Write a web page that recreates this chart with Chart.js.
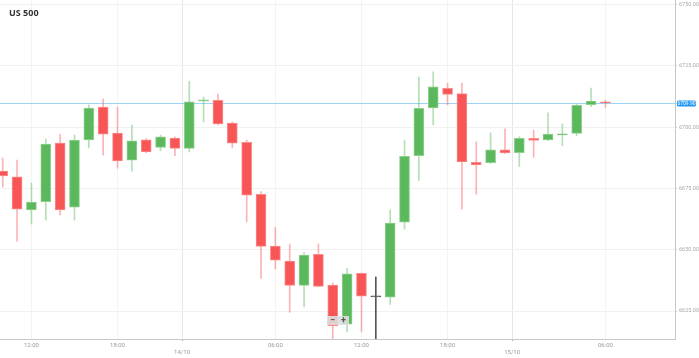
<!DOCTYPE html>
<html>
<head>
<meta charset="utf-8">
<script src="https://cdn.jsdelivr.net/npm/chart.js@4.4.1/dist/chart.umd.min.js"></script>
<style>
  html, body { margin: 0; padding: 0; background: #fff; }
  #wrap { position: relative; width: 699px; height: 358px; }
  #title { position: absolute; left: 9px; top: 6px; font: bold 9px "Open Sans", sans-serif; color: #333; }
  .zoom-btn {
    position: absolute; top: 316px; width: 11px; height: 9px;
    background: rgba(222, 222, 222, 0.9); color: #555;
    font: bold 9px Roboto, sans-serif; line-height: 9px; text-align: center;
  }
</style>
</head>
<body>
<div id="wrap">
  <canvas id="chart" width="699" height="358"></canvas>
  <div id="title">US 500</div>
  <div class="zoom-btn" style="left:327px">−</div>
  <div class="zoom-btn" style="left:338px">+</div>
</div>
<script>
// hourly candles
const opens = [6682.1, 6679.8, 6666.3, 6669.6, 6693.5, 6667.4, 6694.8, 6708.2, 6697.6, 6686.6,
  6694.9, 6691.8, 6695.6, 6691.4, 6710.6, 6711.0, 6701.7, 6693.8, 6672.6, 6651.5,
  6645.4, 6635.5, 6648.1, 6635.6, 6619.7, 6640.4, 6630.8, 6630.7, 6661.3, 6688.4,
  6707.9, 6715.9, 6713.7, 6685.7, 6685.5, 6690.8, 6689.6, 6695.5, 6694.8, 6696.9,
  6697.5, 6709.2, 6710.4];
const highs = [6687.4, 6686.6, 6677.2, 6695.2, 6697.2, 6696.8, 6709.1, 6711.5, 6708.2, 6700.9,
  6695.3, 6696.8, 6696.1, 6718.8, 6712.3, 6713.5, 6702.2, 6694.8, 6673.7, 6659.1,
  6652.3, 6648.9, 6652.4, 6636.5, 6642.4, 6640.6, 6638.9, 6666.3, 6694.6, 6720.5,
  6722.6, 6717.9, 6717.9, 6694.0, 6697.7, 6699.3, 6696.1, 6698.7, 6705.9, 6701.4,
  6709.3, 6716.0, 6711.1];
const lows = [6675.6, 6653.5, 6660.5, 6662.1, 6664.2, 6662.1, 6691.6, 6688.6, 6683.3, 6682.1,
  6689.6, 6690.4, 6688.4, 6689.9, 6702.1, 6700.9, 6691.6, 6661.4, 6638.3, 6642.2,
  6624.5, 6626.7, 6634.9, 6612.0, 6616.5, 6616.5, 6610.0, 6627.7, 6658.4, 6678.3,
  6700.9, 6709.1, 6666.6, 6672.7, 6685.2, 6689.2, 6683.9, 6687.7, 6694.5, 6692.4,
  6696.5, 6708.4, 6708.1];
const closes = [6680.1, 6666.6, 6669.5, 6693.1, 6666.3, 6694.8, 6707.8, 6697.2, 6686.2, 6694.4,
  6689.9, 6696.1, 6691.4, 6710.4, 6711.2, 6701.3, 6693.5, 6672.3, 6651.4, 6645.8,
  6635.5, 6647.8, 6635.1, 6619.0, 6640.2, 6631.1, 6630.8, 6660.9, 6688.1, 6707.7,
  6716.5, 6713.4, 6685.8, 6684.6, 6690.8, 6689.5, 6695.5, 6694.6, 6697.2, 6697.2,
  6708.9, 6710.7, 6709.9];

// x axis: candle index positions of the time / date labels
const timeTicks = [2, 8, 12.5, 19, 25, 31, 35.5, 42];
const timeLabels = ["12:00", "18:00", "14/10", "06:00", "12:00", "18:00", "15/10", "06:00"];
const dateLabels = ["14/10", "15/10"];
const priceTicks = [6625, 6650, 6675, 6700, 6725, 6750];
const lastPrice = 6709.9;

const GREEN = "#5cb85c", RED = "#f85656", FLAT = "#555";

function candleColor(i) {
    if (closes[i] > opens[i]) return GREEN;
    if (closes[i] < opens[i]) return RED;
    return FLAT;
}

const bodyBorder = opens.map((o, i) => {
    const c = candleColor(i);
    return c === GREEN ? "#8fd08f" : c === RED ? "#fa8c8c" : FLAT;
});
const wickColor = opens.map((o, i) => {
    const c = candleColor(i);
    return c === GREEN ? "rgba(92,184,92,0.45)" : c === RED ? "rgba(248,86,86,0.45)" : FLAT;
});

const isDateTick = ctx => ctx.tick && dateLabels.includes(timeLabels[timeTicks.indexOf(ctx.tick.value)]);

// blue line + tag for the last price
const priceLine = {
    id: "priceLine",
    beforeDatasetsDraw(chart) {
        const { ctx, chartArea, scales: { y } } = chart;
        const py = Math.round(y.getPixelForValue(lastPrice));
        ctx.save();
        ctx.fillStyle = "#9dd4f7";
        ctx.fillRect(chartArea.left, py, chartArea.right + 2 - chartArea.left, 1);
        ctx.fillStyle = "#2196f3";
        ctx.beginPath();
        ctx.roundRect(chartArea.right + 2, py - 2.5, 19, 6, 1.5);
        ctx.fill();
        ctx.fillStyle = "#fff";
        ctx.font = "5px Roboto";
        ctx.textAlign = "center";
        ctx.textBaseline = "middle";
        ctx.fillText(lastPrice.toFixed(2), chartArea.right + 11.5, py + 1);
        ctx.restore();
    }
};

new Chart(document.getElementById("chart"), {
    type: "bar",
    data: {
        datasets: [
            {
                data: lows.map((l, i) => ({ x: i, y: [l, highs[i]] })),
                backgroundColor: wickColor,
                barThickness: 1,
                grouped: false,
                order: 2
            },
            {
                data: opens.map((o, i) => ({ x: i, y: [o, closes[i]] })),
                backgroundColor: opens.map((o, i) => candleColor(i)),
                borderColor: bodyBorder,
                borderWidth: 1,
                borderSkipped: false,
                barThickness: 10,
                minBarLength: 1,
                grouped: false,
                order: 1
            }
        ]
    },
    options: {
        responsive: false,
        animation: false,
        devicePixelRatio: 1,
        layout: { padding: 0 },
        plugins: {
            legend: { display: false },
            tooltip: { enabled: false }
        },
        scales: {
            x: {
                type: "linear",
                min: -0.19,
                max: 46.85,
                offset: false,
                border: { color: "#c8c8c8" },
                grid: {
                    offset: false,
                    color: ctx => isDateTick(ctx) ? "#e6e6e6" : "#f3f3f3",
                    tickLength: 3,
                    tickColor: ctx => isDateTick(ctx) ? "#aaa" : "transparent",
                    tickBorderDash: [1, 1]
                },
                ticks: {
                    autoSkip: false,
                    maxRotation: 0,
                    padding: 0,
                    color: "#999",
                    font: { family: "Roboto", size: 6 },
                    callback: v => {
                        const label = timeLabels[timeTicks.indexOf(v)];
                        return dateLabels.includes(label) ? ["", label] : label;
                    }
                },
                afterBuildTicks: s => { s.ticks = timeTicks.map(v => ({ value: v })); },
                afterFit: s => { s.height = 19; s.paddingLeft = 0; s.paddingRight = 0; }
            },
            y: {
                position: "right",
                min: 6613.6,
                max: 6751.9,
                border: { color: "#c8c8c8" },
                grid: { color: "#f1f1f1", tickLength: 2, tickColor: "#ccc" },
                ticks: {
                    padding: 2,
                    color: "#aaa",
                    font: { family: "Roboto", size: 5.5 },
                    callback: v => v.toFixed(2)
                },
                afterBuildTicks: s => { s.ticks = priceTicks.map(v => ({ value: v })); },
                afterFit: s => { s.width = 24; s.paddingTop = 0; s.paddingBottom = 0; }
            }
        }
    },
    plugins: [priceLine]
});
</script>
</body>
</html>
